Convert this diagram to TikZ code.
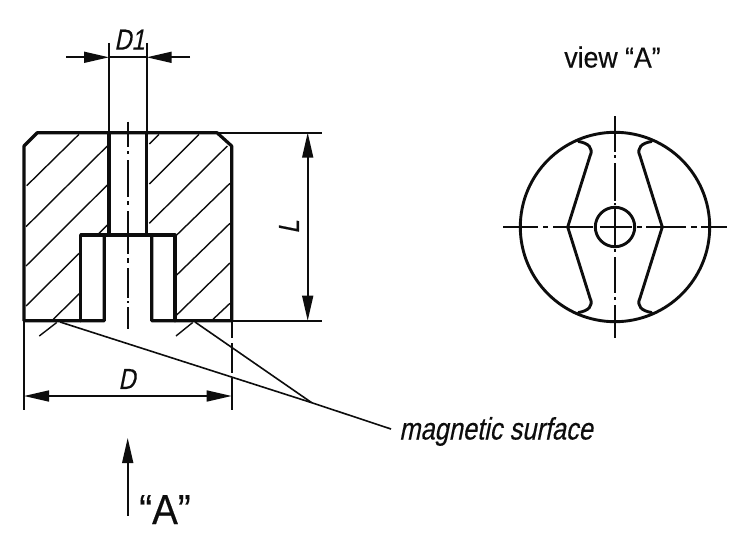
\documentclass[tikz,border=0pt]{standalone}
\usepackage{fontspec}
\setmainfont[FakeStretch=0.92,FakeBold=0.3]{Liberation Sans}
\newfontfamily\slantedtext[FakeStretch=0.82,FakeSlant=0.2,FakeBold=0.3]{Liberation Sans}
\newcommand{\txtsize}[1]{\fontsize{#1}{#1}\selectfont}
\usetikzlibrary{arrows.meta}
\tikzset{
  outline/.style={line width=3.2pt,black!95,line cap=round,line join=round},
  roundoutline/.style={line width=2.9pt,black!95,line cap=round,line join=round},
  thinline/.style={line width=1.6pt,black!95},
  hatchline/.style={line width=1.4pt,black!95},
  centerline/.style={line width=1.6pt,black!95},
  dimline/.style={line width=1.6pt,black!95,{Triangle[length=25pt,width=11pt]}-{Triangle[length=25pt,width=11pt]}},
  oneway/.style={line width=1.6pt,black!95,-{Triangle[length=25pt,width=11pt]}},
  lbl/.style={inner sep=0pt,text=black!95}
}
\begin{document}
\begin{tikzpicture}[x=1pt,y=-1pt]
\useasboundingbox (0,0) rectangle (750,543);
\fill[white] (0,0) rectangle (750,543);
% hatching
\foreach \a/\b/\c/\d in {
 26.7/185.7/79/134.3, 26/226.7/107.3/146, 26/266/107.3/185, 26/306/80/252.5, 97.5/235/107.3/225,
 53.3/319.3/80/293,
 149.3/144/159/134.3, 149.3/184/199/134.3, 149.3/223.3/227.3/146, 176.7/235/230/183.3,
 176.7/275/230/223.3, 176.7/315/230/263, 213/319.3/230/303.3,
 39.3/336/56.7/322.5, 176/336/192.7/322.5}
  \draw[hatchline] (\a,\b) -- (\c,\d);
% section outline
\draw[outline] (24,320.7) -- (24,146) -- (37.3,132.7) -- (217,132.7) -- (231.7,146) -- (231.7,320.7) -- (151.7,320.7) -- (151.7,235) -- (104.3,235) -- (104.3,320.7) -- cycle;
\draw[outline] (80.7,320.7) -- (80.7,235) -- (175,235) -- (175,320.7);
\draw[outline] (109,132.7) -- (109,235);
\draw[outline] (146.7,132.7) -- (146.7,235);
% centre line of section
\foreach \a/\b in {121.7/147,151/154,160/197,201/205,211/254,258/263,268/298,301/303,307/329}
  \draw[centerline] (127.7,\a) -- (127.7,\b);
% D1
\draw[thinline] (109,43) -- (109,132);
\draw[thinline] (146.7,43) -- (146.7,132);
\coordinate (d1a) at (66,57.3);
\coordinate (d1b) at (109,57.3);
\coordinate (d1c) at (146.7,57.3);
\coordinate (d1d) at (190,57.3);
\draw[oneway] (d1a) -- (d1b);
\draw[oneway] (d1d) -- (d1c);
\draw[thinline] (d1b) -- (d1c);
\node[lbl] (labelDone) at (129.5,39.7) {\slantedtext\txtsize{29}D1};
% L
\draw[thinline] (217,132.7) -- (322,132.7);
\draw[thinline] (231.7,320.7) -- (322,320.7);
\coordinate (la) at (307.7,132.7);
\coordinate (lb) at (307.7,320.7);
\draw[dimline] (la) -- (lb);
\node[lbl,rotate=90] (labelL) at (289,227) {\slantedtext\txtsize{29}L};
% D
\draw[thinline] (24,320.7) -- (24,410);
\foreach \a/\b in {322/338,343/373,378/410}
  \draw[thinline] (231.7,\a) -- (231.7,\b);
\coordinate (da) at (24,396);
\coordinate (db) at (231.7,396);
\draw[dimline] (da) -- (db);
\node[lbl] (labelD) at (127,379) {\slantedtext\txtsize{29}D};
% leaders
\node[lbl,anchor=base west] (labelMag) at (399,439.5) {\slantedtext\txtsize{31}magnetic surface};
\coordinate (m1) at (60,322);
\coordinate (m2) at (195,322);
\coordinate (mj) at (311.7,402.7);
\coordinate (mk) at (391,429);
\draw[thinline] (m1) -- (mj) -- (mk);
\draw[thinline] (m2) -- (mj);
% view arrow
\coordinate (va) at (127.7,515.7);
\coordinate (vb) at (127.7,438);
\draw[oneway] (va) -- (vb);
\node[lbl,anchor=base] (labelA) at (165,524) {\txtsize{42}“A”};
\node[lbl,anchor=base] (labelView) at (612.5,67.5) {\txtsize{29}view “A”};
% front view
\draw[roundoutline] (615,227) circle[radius=94.7];
\draw[roundoutline] (615,227) circle[radius=19.7];
\draw[roundoutline] (578.5,141.5) .. controls (588,143) and (594,148) .. (590,156) -- (567.7,227) -- (590,298) .. controls (594,306) and (588,311) .. (578.5,312.5);
\draw[roundoutline] (651.5,141.5) .. controls (642,143) and (636,148) .. (640,156) -- (662.3,227) -- (640,298) .. controls (636,306) and (642,311) .. (651.5,312.5);
\foreach \a/\b in {503/538,543/548,553/593,600/632,637/642,646/686,691/697,701/726.7}
  \draw[centerline] (\a,227) -- (\b,227);
\foreach \a/\b in {116/152,155/158,163/201,203/205,208/246,249/252,257/293,297/300,305/338}
  \draw[centerline] (615,\a) -- (615,\b);
\end{tikzpicture}
\end{document}
